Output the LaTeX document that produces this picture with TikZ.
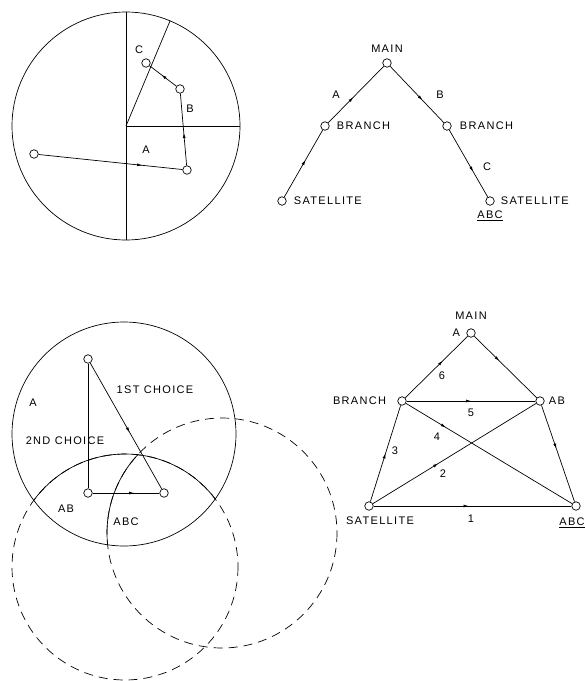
\documentclass[tikz,border=0pt]{standalone}
\usepackage{fontspec}
\newfontfamily\lblfont[LetterSpace=12]{Liberation Sans}
\usetikzlibrary{arrows.meta,decorations.markings,positioning}

\tikzset{
  stn/.style={circle,draw,fill=white,inner sep=0pt,minimum size=8.5pt},
  lbl/.style={font=\lblfont\fontsize{11}{13}\selectfont,inner sep=1pt},
  longdash/.style={dash pattern=on 9pt off 6pt},
  flow/.style={postaction={decorate},decoration={markings,
    mark=at position #1 with {\arrow{Latex[length=5pt,width=3pt]}}}},
}

\begin{document}
\begin{tikzpicture}[x=1pt,y=-1pt,line width=0.7pt]
\useasboundingbox (0,0) rectangle (585,681);

% top left: the dial
\coordinate (o1) at (126,126);
\coordinate (dialtop) at (126,12);
\coordinate (dialbot) at (126,240);
\coordinate (dialright) at (240,126);
\coordinate (dialray) at (170,21);
\draw (o1) circle[radius=114];
\draw (dialtop) -- (dialbot);
\draw (o1) -- (dialright);
\draw (o1) -- (dialray);
\node[stn] (d1) at (34,154) {};
\node[stn] (d2) at (187,170) {};
\node[stn] (d3) at (180,89) {};
\node[stn] (d4) at (146,63) {};
\draw[flow=0.72] (d1) -- (d2);
\draw[flow=0.45] (d2) -- (d3);
\draw[flow=0.55] (d3) -- (d4);
\node[lbl] (dA) at (146,150) {A};
\node[lbl] (dB) at (190,109) {B};
\node[lbl] (dC) at (139,50) {C};

% top right: the tree
\node[stn] (m) at (387,63) {};
\node[lbl,above=5pt of m] (mt) {MAIN};
\node[stn] (b1) at (325,126) {};
\node[lbl,right=6pt of b1] (b1t) {BRANCH};
\node[stn] (b2) at (447,126) {};
\node[lbl,right=7pt of b2] (b2t) {BRANCH};
\node[stn] (s1) at (282,201) {};
\node[lbl,right=6pt of s1] (s1t) {SATELLITE};
\node[stn] (s2) at (490,201) {};
\node[lbl,right=5pt of s2] (s2t) {SATELLITE};
\node[lbl,below=4pt of s2] (s2u) {\underline{ABC}};
\draw[flow=0.45] (b1) -- (m);
\draw[flow=0.55] (s1) -- (b1);
\draw[flow=0.6] (m) -- (b2);
\draw[flow=0.62] (b2) -- (s2);
\node[lbl] (tA) at (336,95) {A};
\node[lbl] (tB) at (440,95) {B};
\node[lbl] (tC) at (487,167) {C};

% bottom left: the three circles
\coordinate (ca) at (124,434);
\coordinate (cb) at (125,567);
\coordinate (cc) at (222,533);
\draw (ca) circle[radius=112];
\draw[longdash] (cb) circle[radius=113];
\draw[longdash] (cc) circle[radius=115];
\begin{scope}
  \clip (ca) circle[radius=112];
  \draw (cb) circle[radius=113];
  \clip (cb) circle[radius=113];
  \draw (cc) circle[radius=115];
\end{scope}
\node[stn] (t1) at (88,359) {};
\node[stn] (t2) at (88,493) {};
\node[stn] (t3) at (164,493) {};
\draw (t1) -- (t2);
\draw[flow=0.62] (t2) -- (t3);
\draw[flow=0.55] (t1) -- (t3);
\node[lbl] (first) at (155,390) {1ST CHOICE};
\node[lbl] (second) at (65,441) {2ND CHOICE};
\node[lbl] (rA) at (33,403) {A};
\node[lbl] (rAB) at (66,509) {AB};
\node[lbl] (rABC) at (126,522) {ABC};

% bottom right: the mesh
\node[stn] (ma) at (471,333) {};
\node[lbl,above=8pt of ma] (mat) {MAIN};
\node[lbl,left=5pt of ma] (maa) {A};
\node[stn] (br) at (402,401) {};
\node[lbl,left=10pt of br] (brt) {BRANCH};
\node[stn] (ab) at (540,401) {};
\node[lbl,right=3pt of ab] (abt) {AB};
\node[stn] (sa) at (369,506) {};
\node[lbl] (sat) at (380,521) {SATELLITE};
\node[stn] (ac) at (576,506) {};
\node[lbl] (act) at (572,523) {\underline{ABC}};
\draw[flow=0.6] (br) -- (ma);
\draw[flow=0.4] (ma) -- (ab);
\draw[flow=0.5] (br) -- (ab);
\draw[flow=0.24] (br) -- (ac);
\draw[flow=0.5] (sa) -- (br);
\draw[flow=0.4] (sa) -- (ab);
\draw[flow=0.45] (ab) -- (ac);
\draw[flow=0.48] (sa) -- (ac);
\node[lbl] (e1) at (471,519) {1};
\node[lbl] (e2) at (443,474) {2};
\node[lbl] (e3) at (395,451) {3};
\node[lbl] (e4) at (437,437) {4};
\node[lbl] (e5) at (471,413) {5};
\node[lbl] (e6) at (442,376) {6};
\end{tikzpicture}
\end{document}
